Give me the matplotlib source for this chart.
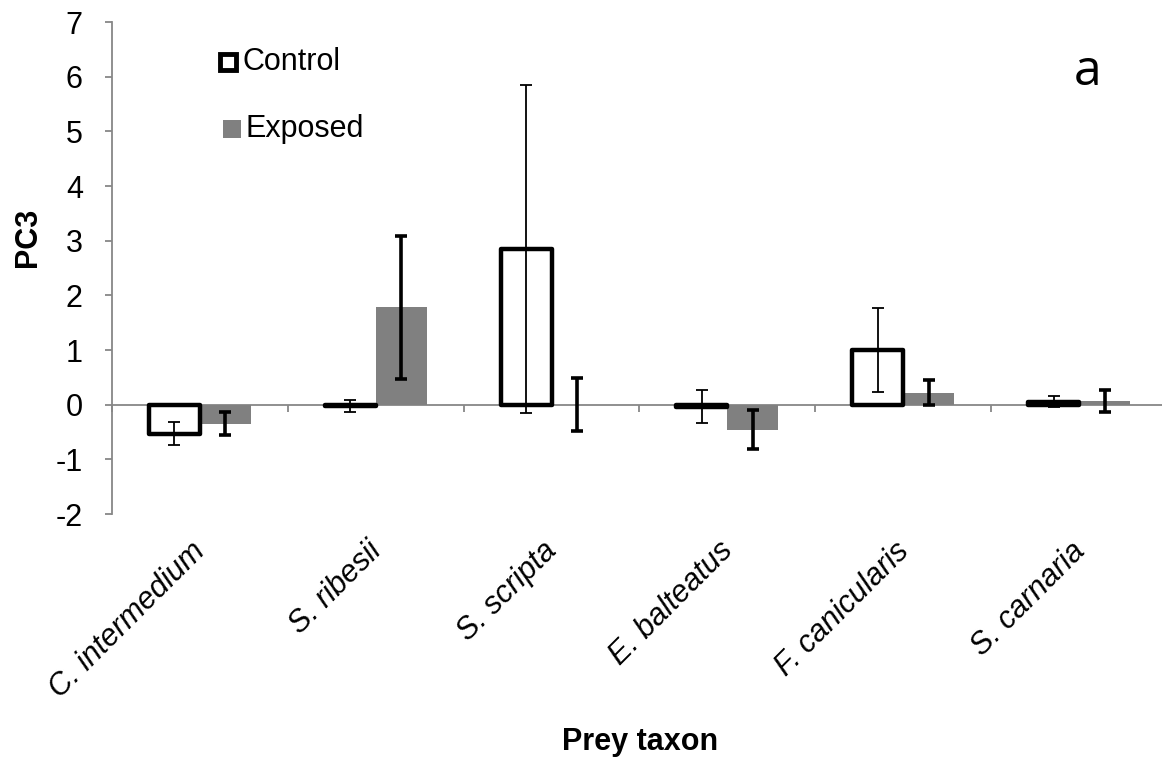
import matplotlib
matplotlib.use("Agg")
import matplotlib.pyplot as plt
import numpy as np
from matplotlib.lines import Line2D

plt.rcParams['font.family'] = ['Liberation Sans', 'DejaVu Sans']

categories = ["C. intermedium", "S. ribesii", "S. scripta", "E. balteatus",
              "F. canicularis", "S. carnaria"]
control = [-0.53, -0.03, 2.84, -0.04, 1.00, 0.05]
control_err = [0.21, 0.11, 3.00, 0.30, 0.76, 0.10]
exposed = [-0.35, 1.78, 0.00, -0.46, 0.22, 0.07]
exposed_err = [0.21, 1.31, 0.49, 0.36, 0.23, 0.20]
yticks = [-2, -1, 0, 1, 2, 3, 4, 5, 6, 7]

W, H = 1162, 764
fig = plt.figure(figsize=(W / 100, H / 100), dpi=100)
left, right, top, bottom = 112, 1167, 22, 514
ax = fig.add_axes([left / W, 1 - bottom / H, (right - left) / W, (bottom - top) / H])

x = np.arange(len(categories))
bw = 0.29
gray_axis = '#878787'

ax.bar(x + bw / 2, exposed, width=bw, color='#808080', edgecolor='none', zorder=2)
ax.bar(x - bw / 2, control, width=bw, facecolor='white', edgecolor='black',
       linewidth=3.2, zorder=3, joinstyle='round')
ax.errorbar(x - bw / 2, control, yerr=control_err, fmt='none', ecolor='black',
            elinewidth=1.3, capsize=4.3, capthick=1.3, zorder=5)
ax.errorbar(x + bw / 2, exposed, yerr=exposed_err, fmt='none', ecolor='black',
            elinewidth=2.6, capsize=4.3, capthick=2.6, zorder=5)

ax.set_xlim(-0.5, len(categories) - 0.5)
ax.set_ylim(-2, 7)
ax.set_yticks(yticks)
ax.set_yticklabels([str(v) for v in yticks], fontsize=22)

for s in ['top', 'right']:
    ax.spines[s].set_visible(False)
ax.spines['left'].set_color(gray_axis)
ax.spines['left'].set_linewidth(1.3)
ax.spines['bottom'].set_position(('data', 0))
ax.spines['bottom'].set_color(gray_axis)
ax.spines['bottom'].set_linewidth(1.3)
ax.spines['bottom'].set_zorder(1)

ax.set_xticks(np.arange(-0.5, len(categories), 1.0))
ax.set_xticklabels([])
ax.tick_params(axis='x', direction='out', length=5, width=1.3, color=gray_axis)
ax.tick_params(axis='y', direction='out', length=5, width=1.3, color=gray_axis, pad=16)

# category labels
for i, c in enumerate(categories):
    px = left + 176 * (i + 0.5) - 10
    fig.text(px / W, 1 - 536 / H, c, rotation=45, rotation_mode='anchor',
             ha='right', va='top', fontsize=22, style='italic')

fig.text(640 / W, 1 - 750 / H, "Prey taxon", ha='center', va='baseline',
         fontsize=22, fontweight='bold')
fig.text(28 / W, 1 - 237 / H, "PC3", ha='center', va='center', rotation=90,
         fontsize=22, fontweight='bold')
fig.text(1088 / W, 1 - 85 / H, "a", ha='center', va='baseline', fontsize=36,
         family=['Open Sans', 'DejaVu Sans'])

# legend
fig.add_artist(Line2D([228 / W], [1 - 62 / H], marker='s', markersize=11.5,
                      markerfacecolor='white', markeredgecolor='black',
                      markeredgewidth=3.5, transform=fig.transFigure, linestyle='none'))
fig.text(243 / W, 1 - 62 / H, "Control", ha='left', va='center', fontsize=22)
fig.add_artist(Line2D([232 / W], [1 - 129 / H], marker='s', markersize=12.5,
                      markerfacecolor='#808080', markeredgecolor='#808080',
                      markeredgewidth=0, transform=fig.transFigure, linestyle='none'))
fig.text(245 / W, 1 - 129 / H, "Exposed", ha='left', va='center', fontsize=22)

fig.savefig("out.png", dpi=100)
